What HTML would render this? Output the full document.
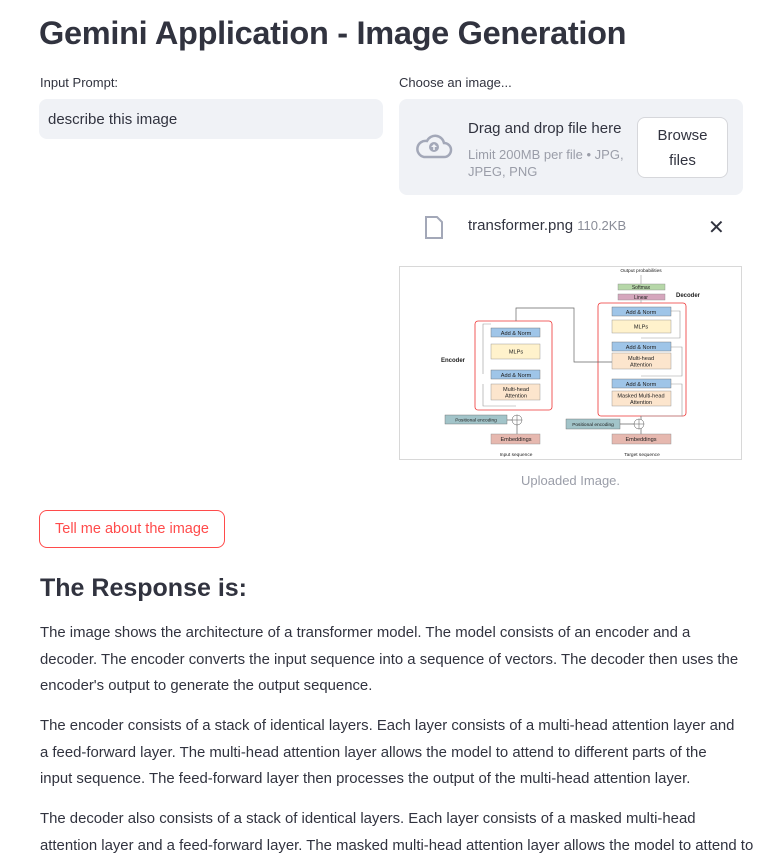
<!DOCTYPE html>
<html><head><meta charset="utf-8"><style>
*{margin:0;padding:0;box-sizing:border-box}
body{width:766px;height:841px;overflow:hidden;background:#fff;font-family:"Liberation Sans",sans-serif;color:#31333f;position:relative}
.a{position:absolute;white-space:nowrap}
p.t{position:absolute;left:40px;font-size:14.9px;line-height:26.5px;white-space:nowrap}
</style></head><body>
<div class="a" style="left:39px;top:15px;font-size:32.5px;font-weight:bold;letter-spacing:-0.3px">Gemini Application - Image Generation</div>
<div class="a" style="left:40px;top:75px;font-size:13px">Input Prompt:</div>
<div class="a" style="left:39px;top:99px;width:344px;height:40px;background:#f0f2f6;border-radius:8px"></div>
<div class="a" style="left:48px;top:111px;font-size:15px">describe this image</div>
<div class="a" style="left:399px;top:75px;font-size:13px">Choose an image...</div>
<div class="a" style="left:399px;top:99px;width:344px;height:96px;background:#f0f2f6;border-radius:8px"></div>
<svg class="a" style="left:414px;top:131px" width="40" height="30" viewBox="0 0 40 30"><path d="M10 26 h20 a7 7 0 0 0 0-14 a9 9 0 0 0-17-2 a8 8 0 0 0-3 16z" fill="none" stroke="#a3a8b8" stroke-width="2.5"/><circle cx="20" cy="16" r="5" fill="#a3a8b8"/><path d="M20 13 l-3 3 h6z M19.2 16h1.6v3h-1.6z" fill="#f0f2f6"/></svg>
<div class="a" style="left:468px;top:120px;font-size:15px">Drag and drop file here</div>
<div class="a" style="left:468px;top:146px;font-size:13px;color:#9a9da8;line-height:17px">Limit 200MB per file • JPG,<br>JPEG, PNG</div>
<div class="a" style="left:637px;top:117px;width:91px;height:61px;background:#fff;border:1px solid #d6d7db;border-radius:8px;font-size:15px;text-align:center;line-height:25px;padding-top:5px">Browse<br>files</div>
<svg class="a" style="left:424px;top:215px" width="20" height="25"><path d="M2 2h11l5 5v16H2z" fill="none" stroke="#a3a8b8" stroke-width="2"/></svg>
<div class="a" style="left:468px;top:217px;font-size:15px">transformer.png <span style="font-size:13px;color:#8a8d98">110.2KB</span></div>
<div class="a" style="left:708px;top:215px;font-size:20px">✕</div>
<div class="a" style="left:399px;top:266px;width:343px;height:194px;border:1px solid #d8d8d8"></div>
<svg class="a" style="left:400px;top:266px;font-family:'Liberation Sans',sans-serif" width="342" height="194" viewBox="0 0 342 194">
<g font-size="5.6" text-anchor="middle" fill="#222">
<text x="241" y="6" font-size="4.8">Output probabilities</text>
<rect x="218" y="18" width="47" height="6" fill="#b6d7a8" stroke="#888" stroke-width=".4"/><text x="241" y="23" font-size="5">Softmax</text>
<rect x="218" y="28" width="47" height="6" fill="#d5a6bd" stroke="#888" stroke-width=".4"/><text x="241" y="33" font-size="5">Linear</text>
<text x="288" y="31" font-weight="bold" font-size="6">Decoder</text>
<text x="53" y="96" font-weight="bold" font-size="6">Encoder</text>
<rect x="198" y="37" width="88" height="113" rx="3" fill="none" stroke="#e33" stroke-width=".8"/>
<rect x="75" y="55" width="77" height="89" rx="3" fill="none" stroke="#e33" stroke-width=".8"/>
<path d="M116 55V42H174V96H212M241 150V168M117 149V168M107 154H112M220 158H234" fill="none" stroke="#666" stroke-width=".7"/>
<path d="M241 37V34M241 18V9M83 108V58H91M83 118V140H116M271 81H282V110H241M271 118H282V150H241M271 45H280V72H241" fill="none" stroke="#999" stroke-width=".6"/>
<rect x="212" y="41" width="59" height="9" fill="#9fc5e8" stroke="#666" stroke-width=".4"/><text x="241" y="47.8">Add &amp; Norm</text>
<rect x="212" y="54" width="59" height="13" fill="#fff2cc" stroke="#888" stroke-width=".4"/><text x="241" y="62.5">MLPs</text>
<rect x="212" y="76" width="59" height="9" fill="#9fc5e8" stroke="#666" stroke-width=".4"/><text x="241" y="82.8">Add &amp; Norm</text>
<rect x="212" y="87" width="59" height="16" fill="#fce5cd" stroke="#888" stroke-width=".4"/><text x="241" y="94">Multi-head</text><text x="241" y="100.5">Attention</text>
<rect x="212" y="113" width="59" height="9" fill="#9fc5e8" stroke="#666" stroke-width=".4"/><text x="241" y="119.8">Add &amp; Norm</text>
<rect x="212" y="125" width="59" height="15" fill="#fce5cd" stroke="#888" stroke-width=".4"/><text x="241" y="131.5">Masked Multi-head</text><text x="241" y="138">Attention</text>
<rect x="91" y="62" width="49" height="9" fill="#9fc5e8" stroke="#666" stroke-width=".4"/><text x="116" y="68.8">Add &amp; Norm</text>
<rect x="91" y="78" width="49" height="15" fill="#fff2cc" stroke="#888" stroke-width=".4"/><text x="116" y="87.5">MLPs</text>
<rect x="91" y="104" width="49" height="9" fill="#9fc5e8" stroke="#666" stroke-width=".4"/><text x="116" y="110.8">Add &amp; Norm</text>
<rect x="91" y="118" width="49" height="16" fill="#fce5cd" stroke="#888" stroke-width=".4"/><text x="116" y="125">Multi-head</text><text x="116" y="131.5">Attention</text>
<rect x="45" y="149" width="62" height="9" fill="#a2c4c9" stroke="#666" stroke-width=".4"/><text x="76" y="155.5" font-size="4.8">Positional encoding</text>
<circle cx="117" cy="154" r="5" fill="#fff" stroke="#555" stroke-width=".5"/><path d="M112 154h10M117 149v10" stroke="#555" stroke-width=".5"/>
<rect x="91" y="168" width="49" height="10" fill="#e6b8af" stroke="#888" stroke-width=".4"/><text x="116" y="175.2">Embeddings</text>
<text x="116" y="190" font-size="4.8">Input sequence</text>
<rect x="166" y="153" width="54" height="10" fill="#a2c4c9" stroke="#666" stroke-width=".4"/><text x="193" y="160" font-size="4.8">Positional encoding</text>
<circle cx="239" cy="158" r="5" fill="#fff" stroke="#555" stroke-width=".5"/><path d="M234 158h10M239 153v10" stroke="#555" stroke-width=".5"/>
<rect x="212" y="168" width="59" height="10" fill="#e6b8af" stroke="#888" stroke-width=".4"/><text x="241" y="175.2">Embeddings</text>
<text x="242" y="190" font-size="4.8">Target sequence</text>
</g></svg>
<div class="a" style="left:521px;top:473px;font-size:13px;color:#9a9da8">Uploaded Image.</div>
<div class="a" style="left:39px;top:510px;width:186px;height:38px;border:1px solid #ff4b4b;border-radius:8px;color:#ff4b4b;font-size:14.5px;text-align:center;line-height:36px">Tell me about the image</div>
<div class="a" style="left:40px;top:574px;font-size:25px;font-weight:bold">The Response is:</div>
<p class="t" style="top:620px">The image shows the architecture of a transformer model. The model consists of an encoder and a<br>decoder. The encoder converts the input sequence into a sequence of vectors. The decoder then uses the<br>encoder's output to generate the output sequence.</p>
<p class="t" style="top:713px">The encoder consists of a stack of identical layers. Each layer consists of a multi-head attention layer and<br>a feed-forward layer. The multi-head attention layer allows the model to attend to different parts of the<br>input sequence. The feed-forward layer then processes the output of the multi-head attention layer.</p>
<p class="t" style="top:806px">The decoder also consists of a stack of identical layers. Each layer consists of a masked multi-head<br>attention layer and a feed-forward layer. The masked multi-head attention layer allows the model to attend to</p>
</body></html>
